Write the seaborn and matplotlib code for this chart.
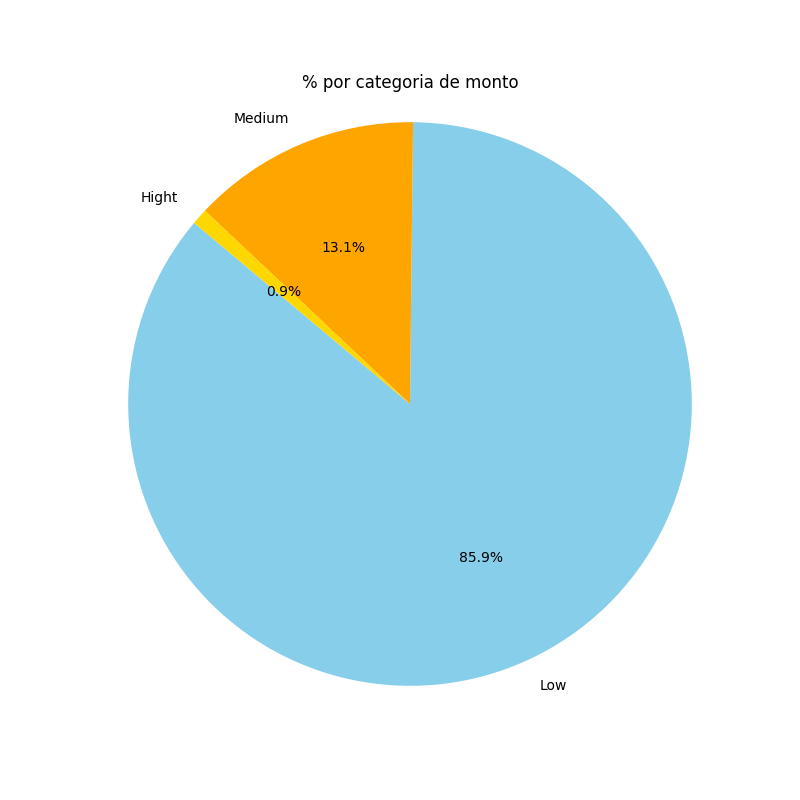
import matplotlib
matplotlib.use("Agg")
import matplotlib.pyplot as plt
import seaborn as sns

categories = ["Low", "Medium", "Hight"]
percentages = [85.94, 13.14, 0.92]
colors = ["skyblue", "orange", "gold"]

sns.reset_orig()
plt.rcParams['font.family'] = ['DejaVu Sans']

fig, ax = plt.subplots(figsize=(8, 8), dpi=100)
ax.pie(percentages, labels=categories, colors=colors, autopct='%1.1f%%', startangle=140)
ax.axis('equal')
ax.set_title('% por categoria de monto')
fig.savefig("out.png", dpi=100)
